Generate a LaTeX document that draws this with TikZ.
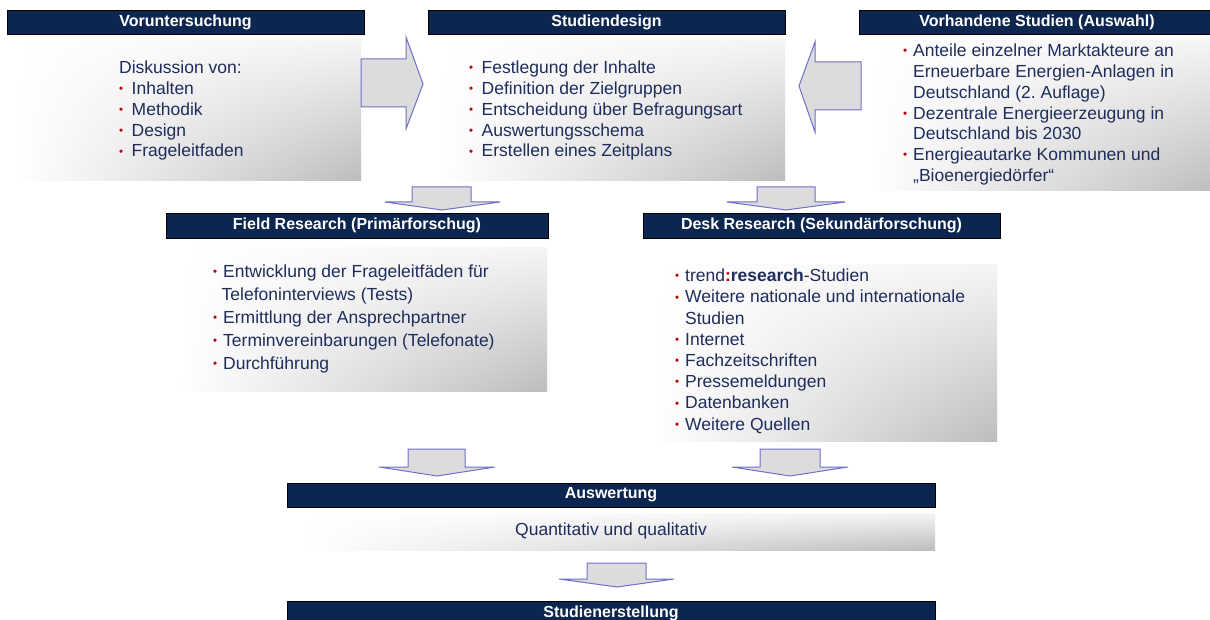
\documentclass[tikz,border=0pt]{standalone}
\usepackage{fontspec}
\setmainfont{Liberation Sans}
\usepackage{tikz}
\usetikzlibrary{positioning, calc, shadings}
\definecolor{navy}{RGB}{12,38,80}
\definecolor{txtblue}{RGB}{30,45,92}
\definecolor{bulred}{RGB}{185,0,0}
\definecolor{arrgray}{RGB}{220,220,220}
\definecolor{arredge}{RGB}{112,112,200}
\newcommand{\bul}[1][10pt]{\makebox[#1][l]{\textcolor{bulred}{\fontsize{11.5}{11.5}\selectfont\raisebox{1.8pt}{•}}}}
\tikzset{
  hdr/.style={draw=black, line width=0.8pt, fill=navy, text=white, inner sep=0pt,
    minimum height=24pt, font=\fontsize{16}{19}\selectfont\bfseries},
  gbox/.style={inner sep=0pt, upper left=white, upper right=gray!8,
    lower left=white, lower right=gray!52},
  % anchored at the baseline of the last line
  boxtext/.style={anchor=base west, inner sep=0pt, align=left, text=txtblue},
  blockarrow/.style={fill=arrgray, draw=arredge, line width=1pt, line join=miter}
}

\begin{document}
\begin{tikzpicture}[x=1pt, y=-1pt]
\fill[white] (0,0) rectangle (1210,620);
\useasboundingbox (0,0) rectangle (1210,620);

% gray boxes
\node[gbox, minimum width=344pt, minimum height=141pt] (vorbox) at (189,110.5) {};
\node[gbox, minimum width=345pt, minimum height=141pt] (desbox) at (612.5,110.5) {};
\node[gbox, minimum width=345pt, minimum height=151pt] (vhbox) at (1042.5,115.5) {};
\node[gbox, minimum width=367pt, minimum height=143pt] (fieldbox) at (363.5,319.5) {};
\node[gbox, minimum width=342pt, minimum height=176pt] (deskbox) at (826,353) {};
\node[gbox, minimum width=635pt, minimum height=37pt] (ausbox) at (617.5,531.5) {};

% headers
\node[hdr, minimum width=357pt] (vor) at (185.5,22) {Voruntersuchung};
\node[hdr, minimum width=357pt] (des) at (606.5,22) {Studiendesign};
\node[hdr, minimum width=356pt] (vh) at (1037,22) {Vorhandene Studien (Auswahl)};
\node[hdr, minimum width=382pt, minimum height=25pt] (field) at (357,225.5) {Field Research (Primärforschug)};
\node[hdr, minimum width=357pt, minimum height=25pt] (desk) at (821.5,225.5) {Desk Research (Sekundärforschung)};
\node[hdr, minimum width=648pt] (aus) at (611,495) {Auswertung};
\node[hdr, minimum width=648pt] (erst) at (611,613) {Studienerstellung};

% box texts
\node[boxtext, font=\fontsize{17.5}{20.9}\selectfont] (vortxt) at (119,157) {Diskussion von:\\
\bul[12.5pt]Inhalten\\
\bul[12.5pt]Methodik\\
\bul[12.5pt]Design\\
\bul[12.5pt]Frageleitfaden};
\node[boxtext, font=\fontsize{17.5}{20.9}\selectfont] (destxt) at (469,157) {\bul[12.5pt]Festlegung der Inhalte\\
\bul[12.5pt]Definition der Zielgruppen\\
\bul[12.5pt]Entscheidung über Befragungsart\\
\bul[12.5pt]Auswertungsschema\\
\bul[12.5pt]Erstellen eines Zeitplans};
\node[boxtext, font=\fontsize{17.5}{20.8}\selectfont] (vhtxt) at (903,181.5) {\bul Anteile einzelner Marktakteure an\\
\hspace*{10pt}Erneuerbare Energien-Anlagen in\\
\hspace*{10pt}Deutschland (2.\ Auflage)\\
\bul Dezentrale Energieerzeugung in\\
\hspace*{10pt}Deutschland bis 2030\\
\bul Energieautarke Kommunen und\\
\hspace*{10pt}„Bioenergiedörfer“};
\node[boxtext, font=\fontsize{17.5}{23}\selectfont] (fieldtxt) at (213,369.3) {\bul Entwicklung der Frageleitfäden für\\
\hspace*{8.5pt}Telefoninterviews (Tests)\\
\bul Ermittlung der Ansprechpartner\\
\bul Terminvereinbarungen (Telefonate)\\
\bul Durchführung};
\node[boxtext, font=\fontsize{17.5}{21.2}\selectfont] (desktxt) at (675,430) {\bul trend\textcolor{bulred}{\textbf{:}}\textbf{research}-Studien\\
\bul Weitere nationale und internationale\\
\hspace*{10pt}Studien\\
\bul Internet\\
\bul Fachzeitschriften\\
\bul Pressemeldungen\\
\bul Datenbanken\\
\bul Weitere Quellen};
\node[anchor=base, inner sep=0pt, text=txtblue, font=\fontsize{17.5}{21}\selectfont] (austxt) at (611,535) {Quantitativ und qualitativ};

% block arrows
\draw[blockarrow] (361,59) -- (406,59) -- (406,37) -- (423,84) -- (406,129) -- (406,107) -- (361,107) -- cycle;
\draw[blockarrow] (861,62) -- (815,62) -- (815,42) -- (799,86) -- (815,132) -- (815,110) -- (861,110) -- cycle;
\draw[blockarrow] (412,187) -- (471,187) -- (471,202) -- (500,202) -- (442,210) -- (385,202) -- (412,202) -- cycle;
\draw[blockarrow] (757,187) -- (815,187) -- (815,202) -- (845,202) -- (786,210) -- (727,202) -- (757,202) -- cycle;
\draw[blockarrow] (408,449) -- (465,449) -- (465,467) -- (495,467) -- (437,476) -- (379,467) -- (408,467) -- cycle;
\draw[blockarrow] (760,449) -- (820,449) -- (820,467) -- (848,467) -- (790,476) -- (732,467) -- (760,467) -- cycle;
\draw[blockarrow] (587,563) -- (646,563) -- (646,579) -- (674,579) -- (617,587) -- (559,579) -- (587,579) -- cycle;
\end{tikzpicture}
\end{document}
